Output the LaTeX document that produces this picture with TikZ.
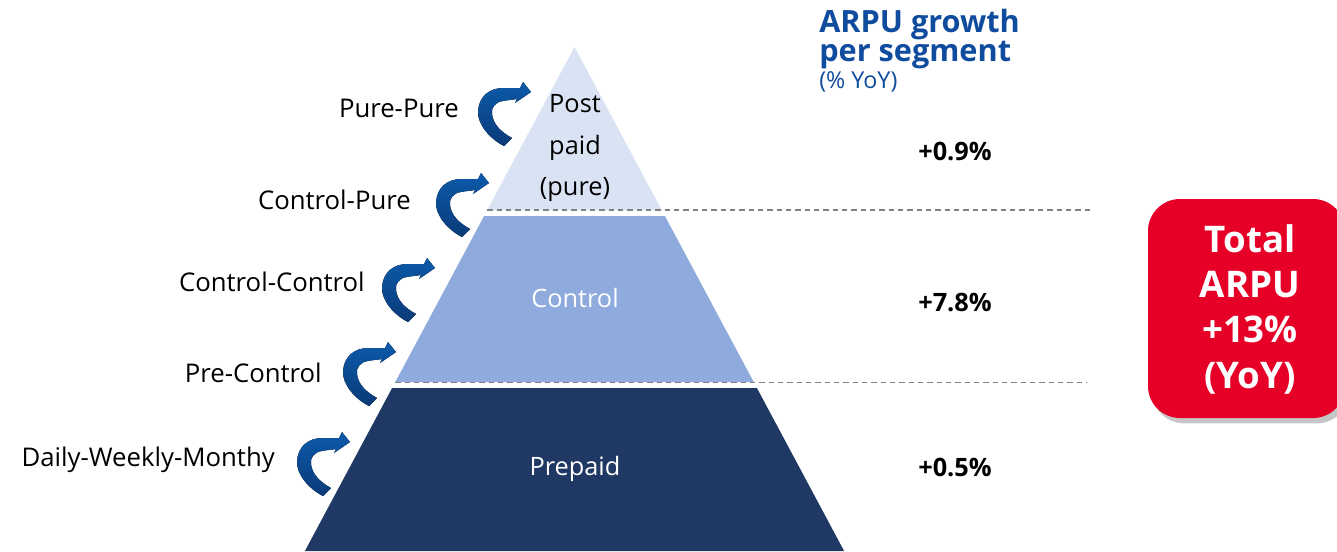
\documentclass[tikz,border=0pt]{standalone}
\usepackage{fontspec}
\setmainfont{Open Sans}
\usetikzlibrary{shadows}
\definecolor{bandtop}{RGB}{218,227,243}
\definecolor{bandmid}{RGB}{143,170,220}
\definecolor{bandbot}{RGB}{32,56,100}
\definecolor{titleblue}{RGB}{15,76,158}
\definecolor{arrtop}{RGB}{12,90,170}
\definecolor{arrbot}{RGB}{10,58,120}
\definecolor{boxred}{RGB}{230,0,40}
\definecolor{dashgray}{RGB}{128,128,128}
\tikzset{
  lbl/.style={anchor=east, font=\fontsize{19.3}{22}\selectfont, text=black, inner sep=0pt},
  pct/.style={font=\fontsize{19}{22}\selectfont\bfseries, text=black, inner sep=0pt},
  seg/.style={font=\fontsize{19}{22}\selectfont, inner sep=0pt, align=center},
  ttl/.style={anchor=base west, inner sep=0pt, text=titleblue},
  sep/.style={draw=dashgray, line width=0.8pt, dash pattern=on 4pt off 3pt},
  carrow/.pic={
    \fill[top color=arrtop, bottom color=arrbot, draw=none]
      (28,63) .. controls (14,56) and (1,41) .. (2,28)
      .. controls (3,13) and (14,5) .. (27,5)
      .. controls (34,5) and (39,5) .. (44,5)
      -- (47,-1) -- (55,9) -- (39,20) -- (41,16)
      .. controls (36,17) and (31,17) .. (27,18)
      .. controls (19,19) and (15,25) .. (16,31)
      .. controls (17,41) and (25,49) .. (36,55)
      -- cycle;
  }
}
\begin{document}
\begin{tikzpicture}[x=0.75pt,y=-0.75pt]
\useasboundingbox (0,0) rectangle (1337,551);
\clip (0,0) rectangle (1337,551);
% pyramid bands
\fill[bandtop] (574.5,47) -- (661.7,210) -- (487.3,210) -- cycle;
\fill[bandmid] (484.1,216) -- (664.9,216) -- (753.7,382) -- (395.3,382) -- cycle;
\fill[bandbot] (392.1,388) -- (756.9,388) -- (844.1,551) -- (304.9,551) -- cycle;
% separators
\coordinate (s1a) at (487.3,210);
\coordinate (s1b) at (1093,210);
\coordinate (s2a) at (395.3,382.5);
\coordinate (s2b) at (1087,382.5);
\draw[sep] (s1a) -- (s1b);
\draw[sep] (s2a) -- (s2b);
% segment labels
\node[seg, text=black] (post) at (575,148) {Post\\[9pt]paid\\[9pt](pure)};
\node[seg, text=white] (ctrl) at (575,298) {Control};
\node[seg, text=white] (prep) at (575,469) {Prepaid};
% growth values
\node[pct] (g1) at (955,151) {+0.9\%};
\node[pct] (g2) at (955,302) {+7.8\%};
\node[pct] (g3) at (955,467) {+0.5\%};
% title
\node[ttl, align=left, font=\fontsize{23}{20.25}\selectfont\bfseries] (t1) at (819,61) {ARPU growth\\per segment};
\node[ttl, font=\fontsize{17.5}{18}\selectfont] (t3) at (819,88) {(\% YoY)};
% migration labels
\node[lbl] (m1) at (459,108) {Pure-Pure};
\node[lbl] (m2) at (411,200) {Control-Pure};
\node[lbl] (m3) at (365,282) {Control-Control};
\node[lbl] (m4) at (322,373) {Pre-Control};
\node[lbl] (m5) at (275,460) {Daily-Weekly-Monthy};
% curved arrows
\pic at (476,83) {carrow};
\pic at (434,174) {carrow};
\pic at (380,259) {carrow};
\pic at (341,343) {carrow};
\pic at (295,433) {carrow};
% total box
\fill[boxred, rounded corners=24pt, drop shadow={shadow xshift=3pt, shadow yshift=-4pt, opacity=0.45}]
  (1148,199) rectangle (1345,418);
\node[text=white, align=center, inner sep=0pt, font=\fontsize{27.5}{34}\selectfont\bfseries] (tot) at (1250,309)
  {Total\\ARPU\\+13\%\\(YoY)};
\end{tikzpicture}
\end{document}
